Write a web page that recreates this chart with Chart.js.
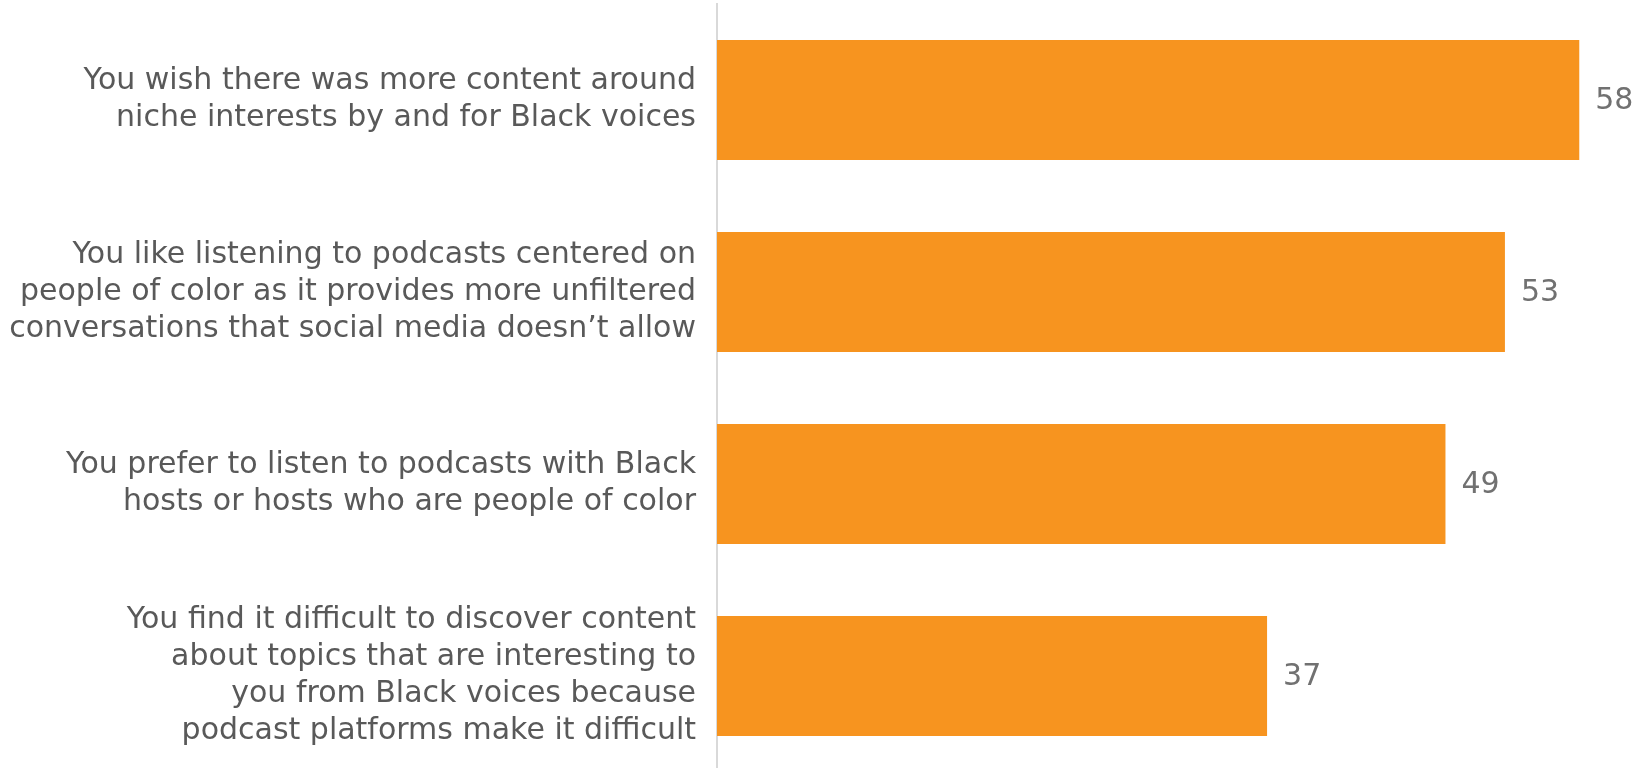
<!DOCTYPE html>
<html>
<head>
<meta charset="utf-8">
<script src="https://cdn.jsdelivr.net/npm/chart.js@4.4.1/dist/chart.umd.min.js"></script>
<style>
html,body{margin:0;padding:0;background:#fff;overflow:hidden;}
#wrap{position:relative;width:1639px;height:772px;}
</style>
</head>
<body>
<div id="wrap"><canvas id="c"></canvas></div>
<script>
const categories = [
  ["You wish there was more content around", "niche interests by and for Black voices"],
  ["You like listening to podcasts centered on", "people of color as it provides more unfiltered", "conversations that social media doesn\u2019t allow"],
  ["You prefer to listen to podcasts with Black", "hosts or hosts who are people of color"],
  ["You find it difficult to discover content", "about topics that are interesting to", "you from Black voices because", "podcast platforms make it difficult"]
];
const values = [58, 53, 49, 37];
const xMin = 0;
const xMax = 60;

const valueLabels = {
  id: 'valueLabels',
  afterDatasetsDraw(chart) {
    const ctx = chart.ctx;
    const meta = chart.getDatasetMeta(0);
    ctx.save();
    ctx.font = '30px "DejaVu Sans"';
    ctx.fillStyle = '#717171';
    ctx.textAlign = 'left';
    ctx.textBaseline = 'middle';
    meta.data.forEach((bar, i) => {
      ctx.fillText(String(values[i]), bar.x + 16, bar.y + 1);
    });
    ctx.restore();
  }
};

new Chart(document.getElementById('c'), {
  type: 'bar',
  data: {
    labels: categories,
    datasets: [{
      data: values,
      backgroundColor: '#F7941F',
      borderWidth: 0,
      barPercentage: 0.625,
      categoryPercentage: 1.0
    }]
  },
  options: {
    indexAxis: 'y',
    responsive: true,
    maintainAspectRatio: false,
    animation: false,
    layout: { padding: { top: 4, right: 30, bottom: 0, left: 0 } },
    plugins: { legend: { display: false }, tooltip: { enabled: false } },
    scales: {
      x: {
        display: false,
        min: xMin,
        max: xMax
      },
      y: {
        afterFit(scale) { scale.width = 717; scale.paddingTop = 0; scale.paddingBottom = 0; },
        grid: { display: false, drawTicks: false },
        border: { display: true, color: '#D9D9D9', width: 2 },
        ticks: {
          padding: 21,
          color: '#595959',
          font: { family: '"DejaVu Sans"', size: 30, lineHeight: 1.23 }
        }
      }
    }
  },
  plugins: [valueLabels]
});
</script>
</body>
</html>
